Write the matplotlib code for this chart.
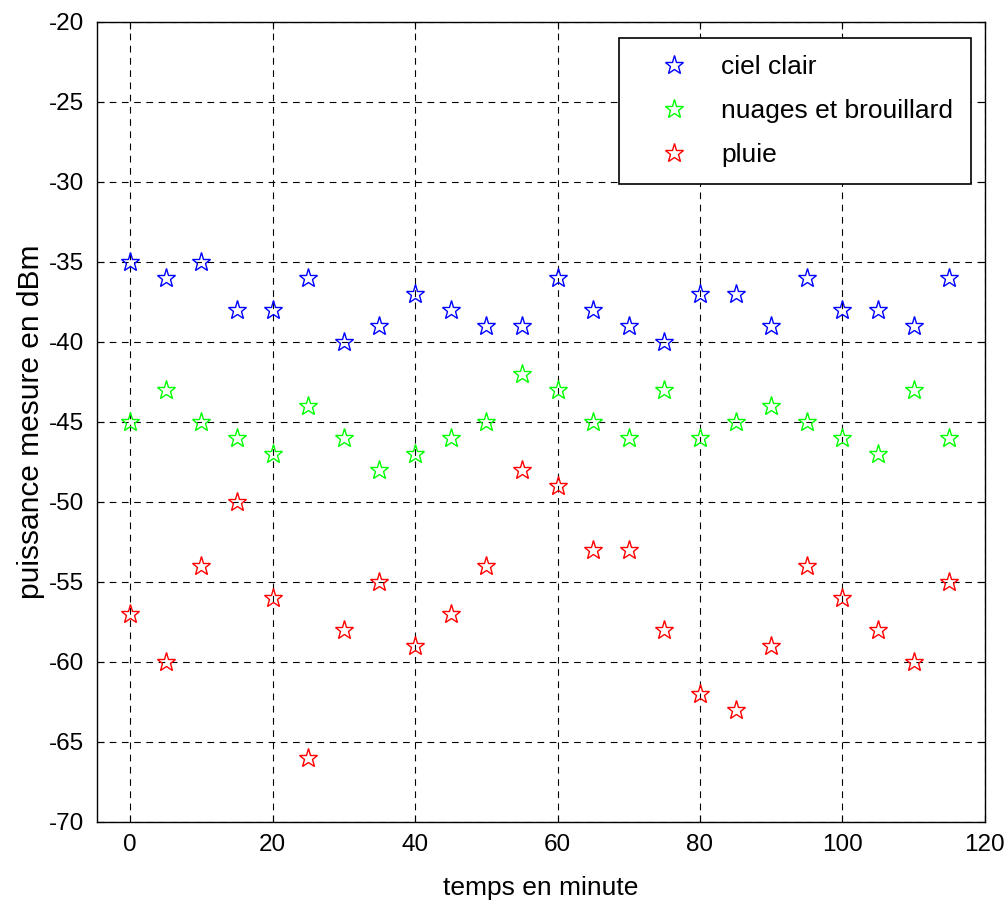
import matplotlib.pyplot as plt
import numpy as np

plt.rcParams['font.family'] = ['Liberation Sans', 'DejaVu Sans']
plt.rcParams['axes.unicode_minus'] = False

temps = np.arange(0, 120, 5)
ciel_clair = [-35, -36, -35, -38, -38, -36, -40, -39, -37, -38, -39, -39,
              -36, -38, -39, -40, -37, -37, -39, -36, -38, -38, -39, -36]
nuages = [-45, -43, -45, -46, -47, -44, -46, -48, -47, -46, -45, -42,
          -43, -45, -46, -43, -46, -45, -44, -45, -46, -47, -43, -46]
pluie = [-57, -60, -54, -50, -56, -66, -58, -55, -59, -57, -54, -48,
         -49, -53, -53, -58, -62, -63, -59, -54, -56, -58, -60, -55]

fig = plt.figure(figsize=(10.08, 9.05), dpi=100)
ax = fig.add_axes([0.096, 0.092, 0.881, 0.884])

kw = dict(linestyle='none', marker='*', markersize=14, markerfacecolor='none', markeredgewidth=1.0)
ax.plot(temps, ciel_clair, color='#0000ff', label='ciel clair', **kw)
ax.plot(temps, nuages, color='#00ff00', label='nuages et brouillard', **kw)
ax.plot(temps, pluie, color='#ff0000', label='pluie', **kw)

ax.set_xlim(-4.7, 120)
ax.set_ylim(-70, -20)
ax.set_xticks(np.arange(0, 121, 20))
ax.set_yticks(np.arange(-70, -19, 5))
ax.grid(True, color='black', linestyle=(0, (6, 5)), linewidth=0.8)
ax.tick_params(labelsize=17.5, direction='in', length=5, top=True, right=True, pad=9)
for s in ax.spines.values():
    s.set_linewidth(1.0)

ax.set_xlabel('temps en minute', fontsize=19, labelpad=14)
ax.set_ylabel('puissance mesure en dBm', fontsize=21.5, labelpad=3)

leg = ax.legend(loc='upper right', bbox_to_anchor=(0.984, 0.98), borderaxespad=0,
                fontsize=19, fancybox=False, framealpha=1, edgecolor='black',
                handlelength=2.9, handletextpad=0.35, borderpad=0.65, labelspacing=0.76)
leg.get_frame().set_linewidth(1.2)

fig.savefig('out.png', dpi=100)
